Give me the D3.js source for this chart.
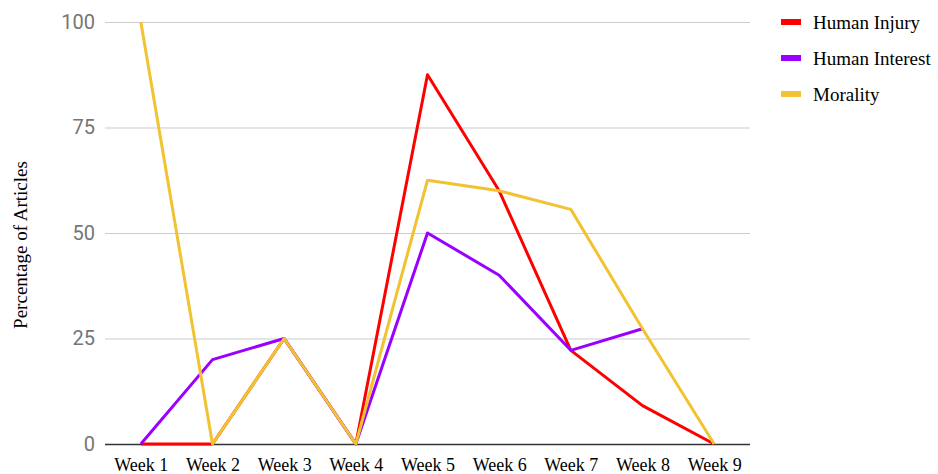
<!DOCTYPE html>
<html>
<head>
<meta charset="utf-8">
<script src="https://cdn.jsdelivr.net/npm/d3@7"></script>
<style>
  html, body { margin: 0; padding: 0; background: #fff; }
  svg { display: block; }
</style>
</head>
<body>
<svg id="chart" width="938" height="474"></svg>
<script>
// Weekly share of articles using each frame
const weeks = ["Week 1", "Week 2", "Week 3", "Week 4", "Week 5", "Week 6", "Week 7", "Week 8", "Week 9"];
const humanInjury = [0, 0, 25, 0, 87.5, 60, 22.2, 9.1, 0];
const humanInterest = [0, 20, 25, 0, 50, 40, 22.2, 27.3, null];
const morality = [100, 0, 25, 0, 62.5, 60, 55.6, 27.3, 0];
const yTicks = [0, 25, 50, 75, 100];

const series = [
  { name: "Human Injury", color: "#ff0000", values: humanInjury },
  { name: "Human Interest", color: "#9900ff", values: humanInterest },
  { name: "Morality", color: "#f1c232", values: morality }
];

const svg = d3.select("#chart");
const plot = { left: 105, right: 750, top: 22, bottom: 444 };

const x = d3.scalePoint().domain(weeks).range([plot.left, plot.right]).padding(0.5);
const y = d3.scaleLinear().domain([0, 100]).range([plot.bottom, plot.top]);

// Horizontal gridlines and value labels
const yAxis = svg.append("g")
  .attr("transform", `translate(${plot.left},0)`)
  .call(d3.axisLeft(y).tickValues(yTicks).tickSize(-(plot.right - plot.left)).tickPadding(10));
yAxis.select(".domain").remove();
yAxis.selectAll(".tick line")
  .attr("stroke", d => d === 0 ? "#333333" : "#cccccc")
  .attr("stroke-width", d => d === 0 ? 1.5 : 1.2);
yAxis.selectAll(".tick text")
  .attr("fill", "#757575")
  .style("font-family", "Roboto, sans-serif")
  .style("font-size", "20px");

// Week labels along the bottom
const xAxis = svg.append("g")
  .attr("transform", `translate(0,${plot.bottom})`)
  .call(d3.axisBottom(x).tickSize(0).tickPadding(14));
xAxis.select(".domain").remove();
xAxis.selectAll(".tick text")
  .attr("fill", "#000")
  .attr("dy", "0.71em")
  .style("font-family", "'Liberation Serif', 'Times New Roman', serif")
  .style("font-size", "18px");

// Axis title
svg.append("text")
  .attr("transform", `translate(27,245) rotate(-90)`)
  .attr("text-anchor", "middle")
  .style("font-family", "'Liberation Serif', 'Times New Roman', serif")
  .style("font-size", "19px")
  .attr("fill", "#000")
  .text("Percentage of Articles");

// Series lines
const line = d3.line()
  .defined(d => d != null)
  .x((d, i) => x(weeks[i]))
  .y(d => y(d));

svg.append("g").selectAll("path")
  .data(series)
  .join("path")
  .attr("fill", "none")
  .attr("stroke", d => d.color)
  .attr("stroke-width", 3)
  .attr("stroke-linejoin", "round")
  .attr("d", d => line(d.values));

// Legend
const legend = svg.append("g").attr("transform", "translate(781,22)");
const item = legend.selectAll("g")
  .data(series)
  .join("g")
  .attr("transform", (d, i) => `translate(0,${i * 36})`);
item.append("rect")
  .attr("x", 0).attr("y", -3)
  .attr("width", 20).attr("height", 6)
  .attr("fill", d => d.color);
item.append("text")
  .attr("x", 32).attr("y", 0).attr("dy", "0.35em")
  .style("font-family", "'Liberation Serif', 'Times New Roman', serif")
  .style("font-size", "19px")
  .attr("fill", "#000")
  .text(d => d.name);
</script>
</body>
</html>
